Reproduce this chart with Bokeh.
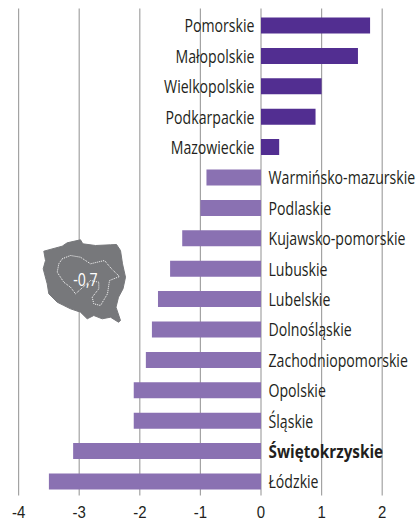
from bokeh.plotting import figure, curdoc
from bokeh.embed import file_html
from bokeh.resources import INLINE
from bokeh.models import Range1d, ColumnDataSource, CustomJS
from bokeh.core.properties import value

regions = ["Pomorskie","Małopolskie","Wielkopolskie","Podkarpackie","Mazowieckie","Warmińsko-mazurskie","Podlaskie","Kujawsko-pomorskie","Lubuskie","Lubelskie","Dolnośląskie","Zachodniopomorskie","Opolskie","Śląskie","Świętokrzyskie","Łódzkie"]
values = [1.8,1.6,1.0,0.9,0.3,-0.9,-1.0,-1.3,-1.5,-1.7,-1.8,-1.9,-2.1,-2.1,-3.1,-3.5]
ticks = [-4,-3,-2,-1,0,1,2]
bold_region = "Świętokrzyskie"
map_value = "-0,7"
# outline of Poland, pixels on the reference
map_x = [43.3,61.7,66.7,80,82.3,95,110,116,120,122,125,122.5,118,115.5,120,118,110,101.7,93.3,86.7,80,70,63.3,56.7,48.3,46.7,42.7,45]
map_y = [250.7,245.7,242.3,239.3,243.3,245,244.3,244,250,263.3,276.7,288.3,296.7,306.7,320,321.7,316.7,318.3,315,318.3,311.7,308.3,305,301.7,293.3,283.3,268.3,260]
inner_x = [61.7,70,80,90,104,111,119,109,107,100,93.3,91.7,98.3,98.3,90,75,70,63.3,56.7,58.3]
inner_y = [258.3,255,256.7,263.3,260,268.3,276,280,293.3,305,303.3,296.7,288.3,281.7,280,293.3,286.7,281.7,271.7,263.3]

FONT = "Open Sans"
TICK_FONT = "Liberation Sans"
TEXT_COLOR = "#231f20"
W, H = 417, 521
X0, PX = 260.5, 60.6
xr = Range1d(-X0/PX, (W - X0)/PX)
yr = Range1d(H, 0)
p = figure(width=W, height=H, x_range=xr, y_range=yr, output_backend="svg", toolbar_location=None,
           min_border=0, outline_line_color=None, background_fill_color="white", border_fill_color="white")
p.grid.visible = False
p.axis.visible = False

for t in ticks:
    p.segment(x0=[t], x1=[t], y0=[8], y1=[495], line_color="#a3a3a3", line_width=1.2)
    p.text(x=[t], y=[511], text=[str(t)], text_align="center", text_baseline="middle",
           text_font=value(TICK_FONT), text_font_size="17px", text_color=TEXT_COLOR)

ys = [25 + i*30.4 for i in range(len(regions))]
src = ColumnDataSource(dict(y=ys, v=values, c=["#522e91" if v > 0 else "#8a71b2" for v in values]))
p.hbar(y="y", left=0, right="v", height=16, fill_color="c", line_color=None, source=src)

for r, v, y in zip(regions, values, ys):
    p.text(x=[(-6.5/PX) if v > 0 else (7.5/PX)], y=[y], text=[r], text_align="right" if v > 0 else "left",
           text_baseline="middle", text_font=value(FONT), text_font_size="18px",
           text_color=TEXT_COLOR, text_font_style="bold" if r == bold_region else "normal")

def dx(a):
    return [(q - X0)/PX for q in a]
p.patch(dx(map_x), map_y, fill_color="#77787b", line_color="#77787b")
p.line(dx(inner_x + inner_x[:1]), inner_y + inner_y[:1], line_color="white", line_width=1, line_dash="1 1")
p.text(x=dx([85]), y=[279], text=[map_value], text_align="center", text_baseline="middle",
       text_font=value(FONT), text_font_size="18px", text_color="white")

right_labels = [r for r, v in zip(regions, values) if v > 0]
center_labels = [str(t) for t in ticks] + [map_value]
squeeze = CustomJS(args=dict(right_labels=right_labels, center_labels=center_labels, bold_region=bold_region), code="""
function apply(){
  function walk(root){
    root.querySelectorAll('*').forEach(el => {
      if (el.shadowRoot) walk(el.shadowRoot);
      if (el.tagName === 'text' && !el.dataset.sq) {
        const b = el.getBBox();
        const s = el.textContent;
        let a = b.x;
        if (right_labels.includes(s)) a = b.x + b.width;
        else if (center_labels.includes(s)) a = b.x + b.width/2;
        const old = el.getAttribute('transform') || '';
        let k = 0.785;
        if (s === bold_region) k = 0.85;
        else if (center_labels.includes(s) && s !== '-0,7') k = 0.88;
        el.setAttribute('transform', `${old} translate(${a} 0) scale(${k} 1) translate(${-a} 0)`);
        el.dataset.sq = '1';
      }
    });
  }
  walk(document);
}
setTimeout(apply, 0); setTimeout(apply, 100);
""")
doc = curdoc()
doc.add_root(p)
doc.js_on_event("document_ready", squeeze)

open("out.html", "w").write(file_html(p, INLINE))
